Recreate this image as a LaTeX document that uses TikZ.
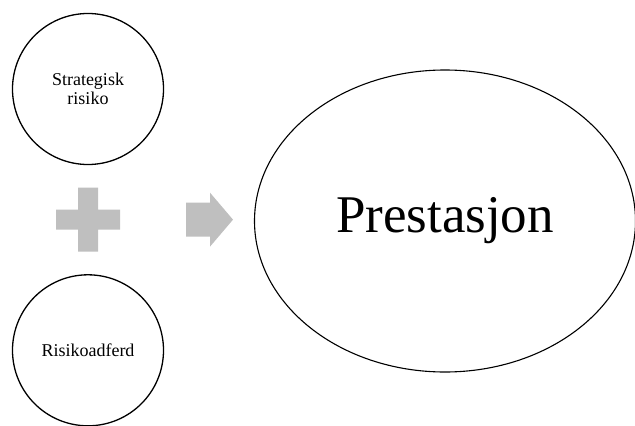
\documentclass[tikz,border=0pt]{standalone}
\usepackage{fontspec}
\setmainfont{Liberation Serif}
\usepackage{tikz}
\usetikzlibrary{positioning}
\usetikzlibrary{shapes.geometric, calc}
\definecolor{smartgray}{RGB}{191,191,191}
\tikzstyle{ring} = [draw,circle,line width=1.3pt,minimum size=151pt,inner sep=0pt,align=center,font=\fontsize{18}{19}\selectfont]
\tikzstyle{result} = [draw,ellipse,line width=1.1pt,minimum width=381pt,minimum height=302pt,inner sep=0pt,font=\fontsize{53}{60}\selectfont]
\tikzstyle{symbol} = [fill=smartgray,draw=none]

\begin{document}
\begin{tikzpicture}[x=1pt,y=-1pt]
					\useasboundingbox (0,0) rectangle (635,426);
					
					%Nodes
					\node [ring] (strat) at (88,89) {Strategisk\\risiko};
					\node [ring, below=109pt of strat] (adferd) {Risikoadferd};
					\node [result] (prest) at (445,221) {Prestasjon};
					
					\coordinate (plus) at ($(strat)!0.5!(adferd)$);
					\coordinate (arr) at ($(plus)+(98,0)$);
					
					%Symbols
					\fill[symbol] (plus) ++(-10,-32) -- ++(20,0) -- ++(0,22) -- ++(22,0) -- ++(0,20) -- ++(-22,0) -- ++(0,22) -- ++(-20,0) -- ++(0,-22) -- ++(-22,0) -- ++(0,-20) -- ++(22,0) -- cycle;
					\fill[symbol] (arr) ++(0,-17) -- ++(24,0) -- ++(0,-10) -- ++(23,27) -- ++(-23,27) -- ++(0,-10) -- ++(-24,0) -- cycle;
				\end{tikzpicture}
\end{document}
